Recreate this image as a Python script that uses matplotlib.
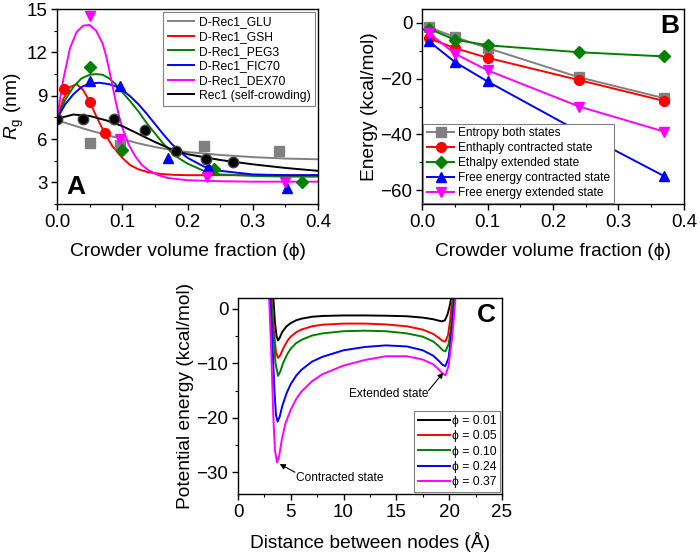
import matplotlib
matplotlib.use('Agg')
import matplotlib.pyplot as plt
from matplotlib.ticker import MultipleLocator, FormatStrFormatter

plt.rcParams['font.family'] = ['Liberation Sans', 'DejaVu Sans']
plt.rcParams['mathtext.fontset'] = 'custom'
plt.rcParams['mathtext.rm'] = 'Liberation Sans'
plt.rcParams['mathtext.it'] = 'Liberation Sans:italic'
plt.rcParams['axes.unicode_minus'] = True

# ---------------- Panel A: Rg vs crowder volume fraction ----------------
glu_x = [0.05, 0.097, 0.225, 0.34]
glu_y = [5.75, 5.6, 5.5, 5.2]
gsh_x = [0.01, 0.05, 0.073]
gsh_y = [9.5, 8.6, 6.4]
peg_x = [0.05, 0.10, 0.24, 0.375]
peg_y = [11.0, 5.25, 3.9, 3.0]
fic_x = [0.05, 0.097, 0.17, 0.232, 0.352]
fic_y = [10.0, 9.7, 4.7, 4.1, 2.6]
dex_x = [0.05, 0.097, 0.23, 0.35]
dex_y = [14.5, 6.0, 3.35, 3.0]
rec_x = [0.0, 0.04, 0.088, 0.135, 0.182, 0.228, 0.27]
rec_y = [7.4, 7.4, 7.4, 6.6, 5.2, 4.6, 4.4]

# fitted curves
fit_glu_x = [0.0, 0.025, 0.05, 0.075, 0.1, 0.125, 0.15, 0.175, 0.2, 0.25, 0.3, 0.35, 0.4]
fit_glu_y = [7.3, 6.95, 6.6, 6.3, 6.0, 5.7, 5.45, 5.25, 5.1, 4.9, 4.75, 4.65, 4.6]
fit_gsh_x = [0.0, 0.01, 0.02, 0.03, 0.04, 0.05, 0.06, 0.073, 0.085, 0.1, 0.112, 0.125, 0.14, 0.16, 0.18, 0.2, 0.25, 0.3, 0.4]
fit_gsh_y = [7.4, 8.8, 9.6, 9.8, 9.4, 8.6, 7.6, 6.4, 5.5, 4.7, 4.2, 3.9, 3.7, 3.58, 3.52, 3.5, 3.5, 3.5, 3.5]
fit_peg_x = [0.0, 0.0125, 0.025, 0.0375, 0.05, 0.06, 0.07, 0.08, 0.09, 0.1, 0.1125, 0.125, 0.1375, 0.15, 0.1625, 0.175, 0.1875, 0.2, 0.225, 0.25, 0.3, 0.35, 0.4]
fit_peg_y = [7.4, 8.7, 9.6, 10.2, 10.45, 10.5, 10.45, 10.2, 9.8, 9.25, 8.6, 7.9, 7.1, 6.4, 5.7, 5.1, 4.65, 4.3, 3.8, 3.55, 3.45, 3.4, 3.4]
fit_fic_x = [0.0, 0.0125, 0.025, 0.0375, 0.05, 0.065, 0.08, 0.09, 0.1, 0.1125, 0.125, 0.1375, 0.15, 0.1625, 0.175, 0.1875, 0.2, 0.225, 0.25, 0.3, 0.35, 0.4]
fit_fic_y = [7.4, 8.4, 9.1, 9.6, 9.85, 9.9, 9.8, 9.65, 9.4, 8.95, 8.4, 7.75, 7.05, 6.35, 5.7, 5.15, 4.7, 4.1, 3.8, 3.55, 3.5, 3.5]
fit_dex_x = [0.0, 0.01, 0.02, 0.03, 0.04, 0.05, 0.06, 0.07, 0.075, 0.08, 0.085, 0.09, 0.095, 0.1, 0.11, 0.12, 0.13, 0.14, 0.155, 0.17, 0.2, 0.25, 0.3, 0.4]
fit_dex_y = [7.4, 10.2, 12.3, 13.4, 13.85, 13.9, 13.5, 12.6, 11.8, 10.8, 9.7, 8.6, 7.6, 6.8, 5.6, 4.8, 4.2, 3.85, 3.5, 3.3, 3.15, 3.08, 3.05, 3.05]
fit_rec_x = [0.0, 0.025, 0.05, 0.075, 0.1, 0.125, 0.15, 0.175, 0.2, 0.25, 0.3, 0.35, 0.4]
fit_rec_y = [7.4, 7.7, 7.6, 7.3, 6.9, 6.35, 5.8, 5.3, 4.95, 4.55, 4.25, 4.0, 3.8]

# ---------------- Panel B: energies ----------------
phi_b = [0.01, 0.05, 0.10, 0.24, 0.37]
entropy = [-1.5, -5.0, -9.0, -19.5, -27.0]
enth_contr = [-5.5, -9.0, -12.5, -20.5, -28.0]
enth_ext = [-2.0, -6.0, -8.0, -10.5, -12.0]
free_contr = [-6.5, -14.0, -21.0, -39.0, -55.0]
free_ext = [-3.5, -11.0, -17.0, -30.0, -39.0]

# ---------------- Panel C: potential energy profiles ----------------
c01_x = [3.35, 3.5, 3.65, 3.8, 3.95, 4.2, 4.6, 5.0, 5.5, 6.0, 7.0, 8.0, 10, 12, 14, 16, 17.5, 18.5, 19.0, 19.3, 19.6, 19.85, 20.05, 20.2]
c01_y = [2, -2.5, -5.0, -5.8, -5.3, -4.2, -3.2, -2.6, -2.1, -1.8, -1.45, -1.3, -1.2, -1.2, -1.25, -1.35, -1.6, -1.9, -2.15, -2.3, -2.1, -1.0, 0.5, 2]
c05_x = [3.2, 3.4, 3.6, 3.8, 4.0, 4.3, 4.7, 5.0, 5.5, 6.0, 7.0, 8.0, 10, 12, 14, 16, 17.5, 18.5, 19.0, 19.4, 19.65, 19.9, 20.1, 20.3]
c05_y = [2, -4, -8, -9, -8.5, -7.2, -5.8, -5.1, -4.3, -3.8, -3.2, -2.9, -2.7, -2.7, -2.85, -3.2, -3.8, -4.6, -5.3, -5.9, -6.0, -4.8, -2, 2]
c10_x = [3.15, 3.35, 3.55, 3.8, 4.0, 4.3, 4.7, 5.0, 5.5, 6.0, 7.0, 8.0, 10, 12, 14, 16, 17.5, 18.5, 19.0, 19.4, 19.65, 19.95, 20.2, 20.4]
c10_y = [2, -4, -10, -12.3, -11.5, -9.8, -8.2, -7.3, -6.3, -5.7, -4.9, -4.5, -4.1, -4.0, -4.1, -4.5, -5.1, -6.0, -6.8, -7.6, -7.8, -6.5, -3, 2]
c24_x = [3.05, 3.25, 3.45, 3.6, 3.75, 3.95, 4.2, 4.6, 5.0, 5.5, 6.0, 7.0, 8.0, 10, 12, 14, 16, 17.5, 18.5, 19.0, 19.4, 19.65, 19.95, 20.25, 20.5]
c24_y = [2, -6, -15, -19.5, -20.7, -19.8, -17.8, -15.5, -13.8, -12.3, -11.2, -9.7, -8.8, -7.6, -7.0, -6.7, -6.9, -7.6, -8.6, -9.5, -10.3, -10.5, -9, -4, 2]
c37_x = [2.95, 3.15, 3.35, 3.5, 3.7, 3.9, 4.15, 4.5, 5.0, 5.5, 6.0, 7.0, 8.0, 10, 12, 14, 16, 17.5, 18.5, 19.0, 19.4, 19.65, 19.95, 20.3, 20.6]
c37_y = [2, -8, -20, -26, -28.2, -27, -24, -21, -18.5, -16.6, -15.2, -13.3, -12, -10.4, -9.4, -8.7, -8.7, -9.3, -10.2, -11.1, -11.9, -12.2, -10.5, -5, 2]

GRAY, RED, GREEN, BLUE, MAG = '#808080', '#ff0000', '#008000', '#0000ff', '#ff00ff'
TICK_FS = 13.5
LABEL_FS = 13.8


def style_axes(ax):
    ax.tick_params(which='both', direction='out', top=False, right=False, labelsize=TICK_FS)
    ax.tick_params(which='major', length=4, width=1, pad=3)
    ax.tick_params(which='minor', length=2.5, width=0.8)
    for s in ax.spines.values():
        s.set_linewidth(1.0)


def small_legend(ax, **kw):
    leg = ax.legend(frameon=True, fancybox=False, edgecolor='#808080',
                    framealpha=1, **kw)
    leg.get_frame().set_linewidth(0.8)
    return leg


fig = plt.figure(figsize=(7, 5.53), dpi=100)

# Panel A
axA = fig.add_axes([0.0814, 0.631, 0.373, 0.3526])
axA.plot(fit_glu_x, fit_glu_y, color=GRAY, lw=1.4, label='D-Rec1_GLU')
axA.plot(fit_gsh_x, fit_gsh_y, color=RED, lw=1.4, label='D-Rec1_GSH')
axA.plot(fit_peg_x, fit_peg_y, color=GREEN, lw=1.4, label='D-Rec1_PEG3')
axA.plot(fit_fic_x, fit_fic_y, color=BLUE, lw=1.4, label='D-Rec1_FIC70')
axA.plot(fit_dex_x, fit_dex_y, color=MAG, lw=1.4, label='D-Rec1_DEX70')
axA.plot(fit_rec_x, fit_rec_y, color='black', lw=1.4, label='Rec1 (self-crowding)')
axA.plot(glu_x, glu_y, 's', color=GRAY, ms=6.5, ls='none')
axA.plot(gsh_x, gsh_y, 'o', color=RED, ms=7, ls='none')
axA.plot(peg_x, peg_y, 'D', color=GREEN, ms=6.5, ls='none')
axA.plot(fic_x, fic_y, '^', color=BLUE, ms=7.5, ls='none')
axA.plot(dex_x, dex_y, 'v', color=MAG, ms=7.5, ls='none')
axA.plot(rec_x, rec_y, 'o', color='black', mec='#444444', ms=7.5, ls='none')
axA.set_xlim(0, 0.4)
axA.set_ylim(1.5, 15)
axA.xaxis.set_major_locator(MultipleLocator(0.1))
axA.xaxis.set_minor_locator(MultipleLocator(0.05))
axA.yaxis.set_major_locator(MultipleLocator(3))
axA.yaxis.set_minor_locator(MultipleLocator(1.5))
axA.xaxis.set_major_formatter(FormatStrFormatter('%.1f'))
style_axes(axA)
axA.set_xlabel('Crowder volume fraction (ϕ)', fontsize=LABEL_FS, labelpad=9)
axA.set_ylabel(r'$R_{\rm g}$ (nm)', fontsize=LABEL_FS, labelpad=0)
small_legend(axA, loc='upper right', fontsize=8.7, handlelength=2.2,
             borderpad=0.35, labelspacing=0.22, handletextpad=0.4,
             borderaxespad=0.25)
axA.text(0.035, 0.05, 'A', transform=axA.transAxes, fontsize=19, fontweight='bold')

# Panel B
axB = fig.add_axes([0.603, 0.631, 0.374, 0.3526])
axB.plot(phi_b, entropy, '-s', color=GRAY, ms=6.5, lw=1.4, label='Entropy both states')
axB.plot(phi_b, enth_contr, '-o', color=RED, ms=7, lw=1.4, label='Enthaply contracted state')
axB.plot(phi_b, enth_ext, '-D', color=GREEN, ms=6.5, lw=1.4, label='Ethalpy extended state')
axB.plot(phi_b, free_contr, '-^', color=BLUE, ms=7.5, lw=1.4, label='Free energy contracted state')
axB.plot(phi_b, free_ext, '-v', color=MAG, ms=7.5, lw=1.4, label='Free energy extended state')
axB.set_xlim(0, 0.4)
axB.set_ylim(-65, 5)
axB.xaxis.set_major_locator(MultipleLocator(0.1))
axB.xaxis.set_minor_locator(MultipleLocator(0.05))
axB.yaxis.set_major_locator(MultipleLocator(20))
axB.yaxis.set_minor_locator(MultipleLocator(10))
axB.xaxis.set_major_formatter(FormatStrFormatter('%.1f'))
style_axes(axB)
axB.set_xlabel('Crowder volume fraction (ϕ)', fontsize=LABEL_FS, labelpad=9)
axB.set_ylabel('Energy (kcal/mol)', fontsize=LABEL_FS, labelpad=2)
small_legend(axB, loc='lower left', fontsize=8.6, handlelength=2.3,
             borderpad=0.3, labelspacing=0.25, handletextpad=0.3,
             borderaxespad=0.1)
axB.text(0.947, 0.915, 'B', transform=axB.transAxes, fontsize=19,
         fontweight='bold', ha='center', va='center')

# Panel C
axC = fig.add_axes([0.34, 0.1067, 0.377, 0.3544])
axC.plot(c01_x, c01_y, color='black', lw=1.4, label='ϕ = 0.01')
axC.plot(c05_x, c05_y, color=RED, lw=1.4, label='ϕ = 0.05')
axC.plot(c10_x, c10_y, color=GREEN, lw=1.4, label='ϕ = 0.10')
axC.plot(c24_x, c24_y, color=BLUE, lw=1.4, label='ϕ = 0.24')
axC.plot(c37_x, c37_y, color=MAG, lw=1.4, label='ϕ = 0.37')
axC.set_xlim(0, 25)
axC.set_ylim(-34, 2)
axC.xaxis.set_major_locator(MultipleLocator(5))
axC.xaxis.set_minor_locator(MultipleLocator(2.5))
axC.yaxis.set_major_locator(MultipleLocator(10))
axC.yaxis.set_minor_locator(MultipleLocator(5))
style_axes(axC)
axC.set_xlabel('Distance between nodes (Å)', fontsize=LABEL_FS, labelpad=8)
axC.set_ylabel('Potential energy (kcal/mol)', fontsize=LABEL_FS, labelpad=2)
small_legend(axC, loc='lower right', fontsize=8.8, handlelength=2.6,
             borderpad=0.3, labelspacing=0.28, handletextpad=0.15,
             borderaxespad=0.15)

axC.text(14.3, -15.7, 'Extended state', fontsize=8.6, ha='center', va='center')
axC.annotate('', xy=(19.45, -11.7), xytext=(18.05, -15.0),
             arrowprops=dict(arrowstyle='-|>', color='black', lw=0.8,
                             mutation_scale=8, shrinkA=0, shrinkB=0))
axC.text(9.6, -31.0, 'Contracted state', fontsize=8.6, ha='center', va='center')
axC.annotate('', xy=(3.95, -28.5), xytext=(5.4, -30.0),
             arrowprops=dict(arrowstyle='-|>', color='black', lw=0.8,
                             mutation_scale=8, shrinkA=0, shrinkB=0))
axC.text(0.941, 0.913, 'C', transform=axC.transAxes, fontsize=19,
         fontweight='bold', ha='center', va='center')

fig.savefig('out.png', dpi=100)
